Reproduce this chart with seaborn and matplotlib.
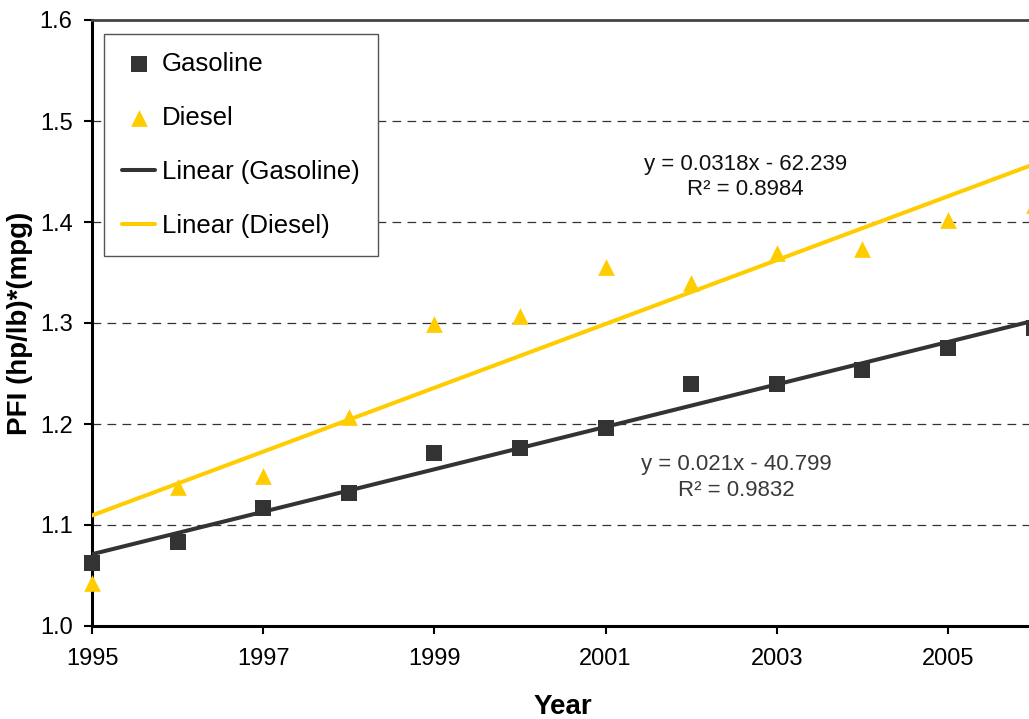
import numpy as np
import pandas as pd
import matplotlib
matplotlib.use("Agg")
import matplotlib.pyplot as plt
import seaborn as sns

# Datos
years = [1995, 1996, 1997, 1998, 1999, 2000, 2001, 2002, 2003, 2004, 2005, 2006]
gasoline = [1.062, 1.083, 1.117, 1.132, 1.171, 1.176, 1.196, 1.240, 1.240, 1.253, 1.275, 1.295]
diesel = [1.043, 1.138, 1.149, 1.207, 1.299, 1.307, 1.355, 1.340, 1.369, 1.373, 1.402, 1.417]
eq_gasoline = ["y = 0.021x - 40.799", "R² = 0.9832"]
eq_diesel = ["y = 0.0318x - 62.239", "R² = 0.8984"]
y_ticks = [1.0, 1.1, 1.2, 1.3, 1.4, 1.5, 1.6]
x_ticks = [1995, 1997, 1999, 2001, 2003, 2005]

df = pd.DataFrame({"Year": years, "Gasoline": gasoline, "Diesel": diesel})

c_gas = "#333333"
c_die = "#FFCC00"

sns.set_style("white")
plt.rcParams["font.family"] = ["Liberation Sans", "DejaVu Sans"]
plt.rcParams["text.color"] = "black"
plt.rcParams["axes.labelcolor"] = "black"
plt.rcParams["xtick.color"] = "black"
plt.rcParams["ytick.color"] = "black"

fig = plt.figure(figsize=(10.29, 7.19), dpi=100)
ax = fig.add_axes([92 / 1029, 93 / 719, 941.6 / 1029, 606 / 719])

# puntos
sns.scatterplot(data=df, x="Year", y="Gasoline", ax=ax, marker="s", s=11.5 ** 2,
                color=c_gas, linewidth=0, label="Gasoline", clip_on=False, zorder=4)
sns.scatterplot(data=df, x="Year", y="Diesel", ax=ax, marker="^", s=12 ** 2,
                color=c_die, linewidth=0, label="Diesel", clip_on=False, zorder=4)

# tendencias lineales
sns.regplot(data=df, x="Year", y="Gasoline", ax=ax, scatter=False, ci=None, truncate=True,
            line_kws={"color": c_gas, "lw": 2.9, "zorder": 3})
ax.get_lines()[-1].set_label("Linear (Gasoline)")
sns.regplot(data=df, x="Year", y="Diesel", ax=ax, scatter=False, ci=None, truncate=True,
            line_kws={"color": c_die, "lw": 2.9, "zorder": 3})
ax.get_lines()[-1].set_label("Linear (Diesel)")

ax.set_xlim(1995, 2006)
ax.set_ylim(1.0, 1.6)
ax.set_xticks(x_ticks)
ax.set_xticklabels([str(t) for t in x_ticks])
ax.set_yticks(y_ticks)
ax.set_yticklabels([f"{t:.1f}" for t in y_ticks])

for t in y_ticks[1:-1]:
    ax.axhline(t, color="#333333", lw=0.9, linestyle=(0, (7, 5)), zorder=1)

ax.spines["right"].set_visible(False)
ax.spines["left"].set_color("black")
ax.spines["left"].set_linewidth(2.2)
ax.spines["bottom"].set_color("black")
ax.spines["bottom"].set_linewidth(2.2)
ax.spines["top"].set_color("#444444")
ax.spines["top"].set_linewidth(2.0)

ax.tick_params(axis="y", direction="out", length=6, width=1.5, pad=8, labelsize=17, left=True)
ax.tick_params(axis="x", direction="out", length=6, width=1.5, pad=10, labelsize=17, bottom=True)

ax.set_xlabel("Year", fontsize=20, fontweight="bold", labelpad=17)
ax.set_ylabel("PFI (hp/lb)*(mpg)", fontsize=20, fontweight="bold", labelpad=5)

ax.text(2002.63, 1.4446, "\n".join(eq_diesel), ha="center", va="center",
        fontsize=16, color="#111111", linespacing=1.3)
ax.text(2002.53, 1.147, "\n".join(eq_gasoline), ha="center", va="center",
        fontsize=16, color="#3a3a3a", linespacing=1.3)

handles, labels = ax.get_legend_handles_labels()
leg = ax.legend(handles, labels, loc="upper left", bbox_to_anchor=(104 / 1029, 1 - 34 / 719),
                bbox_transform=fig.transFigure, borderaxespad=0, fontsize=18.5,
                frameon=True, fancybox=False, framealpha=1, edgecolor="#555555",
                handlelength=1.3, handletextpad=0.25, labelspacing=1.17, borderpad=0.7)
leg.get_frame().set_linewidth(1.0)

fig.savefig("out.png", dpi=100)
